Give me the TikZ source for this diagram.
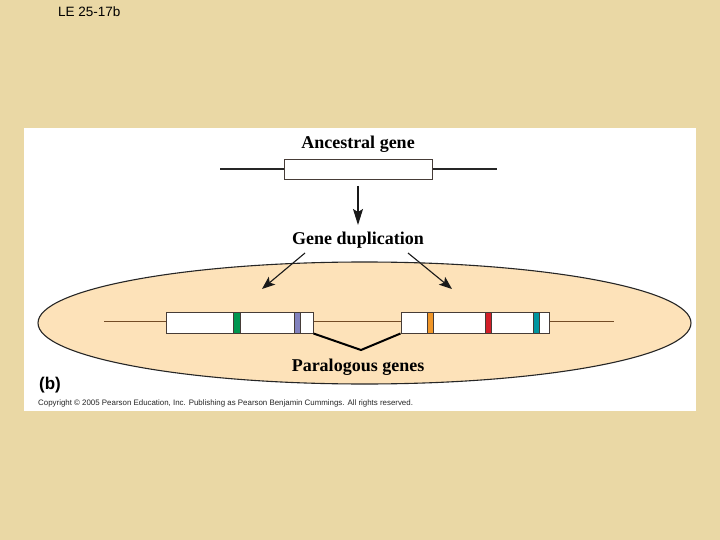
\documentclass[tikz,border=0pt]{standalone}
\usepackage{fontspec}
\setmainfont{Liberation Serif}
\setsansfont{Liberation Sans}
\usetikzlibrary{arrows.meta,shapes.geometric}
\definecolor{parch}{RGB}{234,216,165}
\definecolor{peach}{RGB}{253,226,185}
\definecolor{bgreen}{RGB}{0,150,80}
\definecolor{bpurple}{RGB}{130,130,190}
\definecolor{borange}{RGB}{240,150,40}
\definecolor{bred}{RGB}{210,30,40}
\definecolor{bteal}{RGB}{0,150,160}
\definecolor{edgegray}{RGB}{70,60,55}
\tikzset{
  genebox/.style={draw=edgegray, fill=white, line width=1pt},
  band/.style={draw=edgegray, line width=0.5pt},
  dna/.style={draw=black!85, line width=1.1pt},
  chrom/.style={draw=brown!60!black, line width=0.9pt},
  lbl/.style={font=\bfseries\fontsize{18}{20}\selectfont, inner sep=0pt},
  arr/.style={-{Stealth[length=16pt,width=10pt,inset=3pt]}, line width=1.2pt, draw=black!90},
  sarr/.style={-{Stealth[length=13pt,width=10pt,inset=3pt]}, line width=1.1pt, draw=black!90},
}
\begin{document}
\begin{tikzpicture}[x=1pt,y=-1pt]
\useasboundingbox (0,0) rectangle (720,540);
\fill[parch] (0,0) rectangle (720,540);
\node[font=\sffamily\fontsize{13.5}{15}\selectfont, anchor=west, inner sep=0pt] (title) at (58,12) {LE 25-17b};
\fill[white] (24,128) rectangle (696,411);
% ancestral gene
\node[lbl] (anc) at (358,144.5) {Ancestral gene};
\coordinate (al) at (220,169);
\coordinate (ar) at (497,169);
\node[genebox, minimum width=148pt, minimum height=20pt, inner sep=0pt] (abox) at (358,170) {};
\draw[dna] (al) -- (abox.west |- al);
\draw[dna] (abox.east |- ar) -- (ar);
\draw[arr] (358,186) -- (358,225);
\node[lbl] (dup) at (358,240.5) {Gene duplication};
% ellipse
\node[draw=black!85, fill=peach, line width=1.1pt, ellipse, minimum width=653pt, minimum height=122pt, inner sep=0pt] (ell) at (364.5,323) {};
\draw[sarr] (305,253) -- (262,289);
\draw[sarr] (408,253) -- (452,289);
% chromosome
\coordinate (cl) at (104,321);
\coordinate (cr) at (614,321);
\draw[chrom] (cl) -- (cr);
\node[genebox, minimum width=147pt, minimum height=21pt, inner sep=0pt] (lbox) at (239.5,322.5) {};
\node[genebox, minimum width=148pt, minimum height=21pt, inner sep=0pt] (rbox) at (475,322.5) {};
\fill[bgreen, band] (233,312) rectangle (240,333);
\fill[bpurple, band] (294,312) rectangle (300,333);
\fill[borange, band] (427,312) rectangle (433,333);
\fill[bred, band] (485,312) rectangle (491,333);
\fill[bteal, band] (533,312) rectangle (539,333);
\coordinate (vtip) at (361,350);
\draw[line width=2pt, line join=miter] (lbox.south east) -- (vtip) -- (rbox.south west);
\node[lbl] (par) at (358,367.5) {Paralogous genes};
\node[font=\sffamily\bfseries\fontsize{17}{19}\selectfont, anchor=west, inner sep=0pt] (b) at (39,385) {(b)};
\node[font=\sffamily\fontsize{7.9}{9}\selectfont, anchor=west, inner sep=0pt, text=black!85] (copy) at (38,403) {Copyright \textcopyright{} 2005 Pearson Education, Inc. Publishing as Pearson Benjamin Cummings. All rights reserved.};
\end{tikzpicture}
\end{document}
